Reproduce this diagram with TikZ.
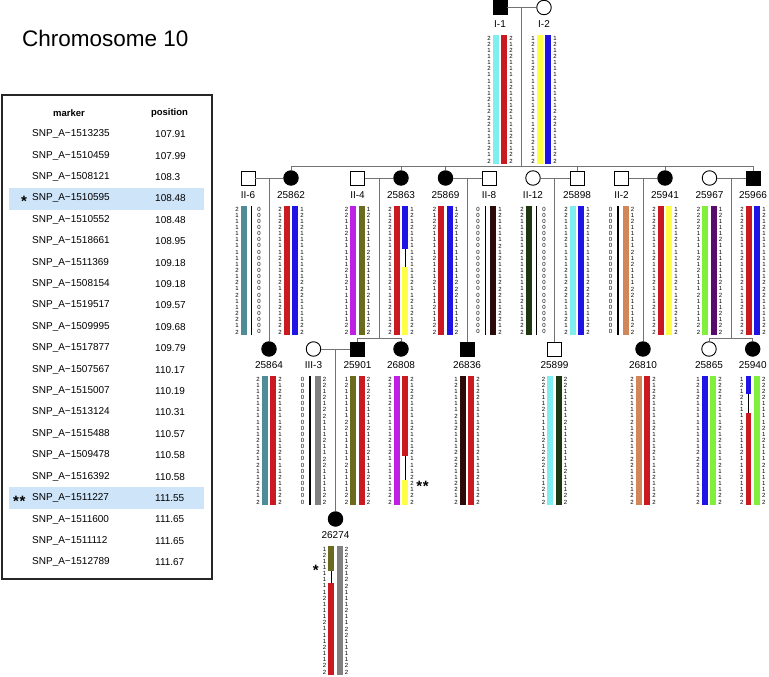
\documentclass[tikz,border=0pt]{standalone}
\usepackage{fontspec}
\setmainfont{Liberation Sans}
\definecolor{hcy}{RGB}{128,238,238}
\definecolor{hrd}{RGB}{200,26,32}
\definecolor{hye}{RGB}{255,255,70}
\definecolor{hbl}{RGB}{32,20,228}
\definecolor{hte}{RGB}{80,140,152}
\definecolor{hma}{RGB}{192,32,228}
\definecolor{hol}{RGB}{107,107,32}
\definecolor{hbr}{RGB}{45,10,10}
\definecolor{hdg}{RGB}{30,55,16}
\definecolor{hor}{RGB}{210,135,90}
\definecolor{hli}{RGB}{128,240,60}
\definecolor{hpu}{RGB}{90,12,110}
\definecolor{hgr}{RGB}{128,128,128}
\definecolor{hlt}{RGB}{206,228,248}
\def\hCy{2,2,1,1,1,2,1,1,1,1,2,1,2,2,2,1,1,1,2,1,2}
\def\hRd{2,1,2,2,1,1,1,1,2,1,1,1,2,1,1,1,2,1,1,2,2}
\def\hYe{1,2,1,1,1,2,1,1,1,1,1,1,2,1,1,2,1,2,1,2,2}
\def\hBl{1,2,1,2,1,1,1,1,1,1,1,1,2,2,2,1,1,1,1,2,2}
\def\hTe{2,1,1,1,1,1,1,1,1,1,2,1,2,1,2,1,1,2,2,1,2}
\def\hMa{2,2,1,1,2,1,1,1,1,1,2,1,2,1,1,1,1,1,1,2,2}
\def\hOl{1,2,1,1,1,1,1,2,2,1,1,1,1,1,2,1,1,1,1,2,2}
\def\hBr{1,2,1,1,1,1,2,1,2,1,1,1,2,2,2,1,1,2,2,1,2}
\def\hDg{2,2,1,1,1,1,1,2,1,1,1,1,1,1,1,2,1,1,1,2,2}
\def\hOr{2,1,2,1,1,1,1,2,1,2,1,1,1,2,2,1,1,1,1,2,2}
\def\hLi{2,2,2,2,1,1,1,1,2,1,2,1,1,1,2,1,1,1,1,2,2}
\def\hPu{1,2,1,1,1,2,1,1,1,1,1,1,2,1,2,1,1,2,1,2,2}
\def\hGr{2,2,1,2,1,2,2,1,1,1,2,1,1,2,2,1,1,1,1,2,2}
\def\hZe{0,0,0,0,0,0,0,0,0,0,0,0,0,0,0,0,0,0,0,0,0}
\def\hBY{1,2,1,2,1,1,1,1,1,1,1,1,2,1,1,2,1,2,1,2,2}
\def\hRY{2,1,2,2,1,1,1,1,2,1,1,1,2,1,1,1,2,2,1,2,2}
\def\hBR{1,2,1,2,1,1,1,1,2,1,1,1,2,1,1,1,2,1,1,2,2}
\def\hOR{1,2,1,1,1,1,1,1,2,1,1,1,2,1,1,1,2,1,1,2,2}
% cx, offset, top, colour
\newcommand{\hb}[4]{\fill[#4] ({#1+(#2)-2.8},#3) rectangle ({#1+(#2)+2.8},{#3+129});}
% cx, offset, top
\newcommand{\nb}[3]{\fill[black] ({#1+(#2)-0.7},#3) rectangle ({#1+(#2)+0.7},{#3+129});}
% cx, offset, top, k1, k2, c1, c2
\newcommand{\rb}[7]{%
 \fill[#6] ({#1+(#2)-2.8},#3) rectangle ({#1+(#2)+2.8},{#3+#4*6.143});
 \fill[black] ({#1+(#2)-0.7},{#3+#4*6.143}) rectangle ({#1+(#2)+0.7},{#3+#5*6.143});
 \fill[#7] ({#1+(#2)-2.8},{#3+#5*6.143}) rectangle ({#1+(#2)+2.8},{#3+129});}
% id, cx, top, left list, right list
\newcommand{\dg}[5]{%
 \foreach \dv [count=\iv] in #4 {\node[dig] (#1l\iv) at ({#2-11},{#3+(\iv-0.5)*6.143}) {\dv};}
 \foreach \dv [count=\iv] in #5 {\node[dig] (#1r\iv) at ({#2+11},{#3+(\iv-0.5)*6.143}) {\dv};}}
\begin{document}
\begin{tikzpicture}[x=1pt,y=-1pt,
 dig/.style={font=\fontsize{6}{6}\selectfont, inner sep=0pt},
 lab/.style={font=\fontsize{10}{12}\selectfont, inner sep=0pt},
 tab/.style={font=\fontsize{10}{12}\selectfont, inner sep=0pt},
 hdr/.style={font=\bfseries\fontsize{9.5}{12}\selectfont, inner sep=0pt},
 ast/.style={font=\bfseries\fontsize{15}{16}\selectfont, inner sep=0pt, anchor=base},
 sym/.style={draw=black, line width=0.9pt, inner sep=0pt, minimum size=14pt},
 sqU/.style={sym, rectangle, fill=white},
 sqA/.style={sym, rectangle, fill=black},
 ciU/.style={sym, circle, fill=white, minimum size=14.5pt},
 ciA/.style={sym, circle, fill=black, minimum size=14.5pt},
 ped/.style={draw=black!55, line width=0.8pt}]
\useasboundingbox (0,0) rectangle (769,677);
\fill[white] (0,0) rectangle (769,677);

% title
\node[font=\fontsize{22.5}{26}\selectfont, anchor=west, inner sep=0pt] (title) at (22,38) {Chromosome 10};

% table
\fill[hlt] (9,187.5) rectangle (204,209.5);
\fill[hlt] (9,487.3) rectangle (204,509.3);
\draw[line width=1.2pt, draw=black!85] (2,95) rectangle (212,579);
\node[hdr] (hm) at (69,113) {marker};
\node[hdr] (hp) at (169.5,113) {position};
\foreach \m/\p [count=\iv] in {1513235/107.91,1510459/107.99,1508121/108.3,1510595/108.48,1510552/108.48,1518661/108.95,1511369/109.18,1508154/109.18,1519517/109.57,1509995/109.68,1517877/109.79,1507567/110.17,1515007/110.19,1513124/110.31,1515488/110.57,1509478/110.58,1516392/110.58,1511227/111.55,1511600/111.65,1511112/111.65,1512789/111.67}{
 \node[tab, anchor=west] (mk\iv) at (32,{134.3+(\iv-1)*21.4}) {SNP\_A−\m};
 \node[tab, anchor=west] (ps\iv) at (155,{134.3+(\iv-1)*21.4}) {\p};
}
\node[ast] (st1) at (24,206.5) {*};
\node[ast] (st2) at (19.3,506.1) {*\kern0.8pt*};

% symbols
\node[sqA] (I1) at (500,7.5) {};
\node[ciU] (I2) at (544,7.5) {};
\node[sqU] (II6) at (248,178) {};
\node[ciA] (n25862) at (291,178) {};
\node[sqU] (II4) at (357.5,178) {};
\node[ciA] (n25863) at (401,178) {};
\node[ciA] (n25869) at (445.5,178) {};
\node[sqU] (II8) at (489,178) {};
\node[ciU] (II12) at (533,178) {};
\node[sqU] (n25898) at (577,178) {};
\node[sqU] (II2) at (621.5,178) {};
\node[ciA] (n25941) at (665,178) {};
\node[ciU] (n25967) at (709.5,178) {};
\node[sqA] (n25966) at (753,178) {};
\node[ciA] (n25864) at (269,349) {};
\node[ciU] (III3) at (313.5,349) {};
\node[sqA] (n25901) at (357.5,349) {};
\node[ciA] (n26808) at (401,349) {};
\node[sqA] (n26836) at (467,349) {};
\node[sqU] (n25899) at (554.5,349) {};
\node[ciA] (n26810) at (643,349) {};
\node[ciU] (n25865) at (709,349) {};
\node[ciA] (n25940) at (752.7,349) {};
\node[ciA] (n26274) at (335.5,519) {};

% connectors
\coordinate (m0) at (521,7.5);
\coordinate (s0) at (521,166);
\draw[ped] (I1) -- (I2);
\draw[ped] (m0) -- (s0);
\foreach \c in {n25862,n25863,n25869,n25898,n25941,n25966} {\draw[ped] (s0) -| (\c.north);}
\draw[ped] (II6) -- (n25862);
\draw[ped] (II4) -- (n25863);
\draw[ped] (n25869) -- (II8);
\draw[ped] (II12) -- (n25898);
\draw[ped] (II2) -- (n25941);
\draw[ped] (n25967) -- (n25966);
\coordinate (d1) at (269,178);
\draw[ped] (d1) -- (n25864.north);
\coordinate (d2) at (379,178);
\coordinate (s2) at (379,338);
\draw[ped] (d2) -- (s2);
\draw[ped] (s2) -| (n25901.north);
\draw[ped] (s2) -| (n26808.north);
\coordinate (d3) at (467,178);
\draw[ped] (d3) -- (n26836.north);
\coordinate (d4) at (554.5,178);
\draw[ped] (d4) -- (n25899.north);
\coordinate (d5) at (643,178);
\draw[ped] (d5) -- (n26810.north);
\coordinate (d6) at (731,178);
\coordinate (s6) at (731,338);
\draw[ped] (d6) -- (s6);
\draw[ped] (s6) -| (n25865.north);
\draw[ped] (s6) -| (n25940.north);
\draw[ped] (III3) -- (n25901);
\coordinate (d7) at (335.5,349);
\draw[ped] (d7) -- (n26274.north);

% labels
\node[lab] (lI1) at (500,24) {I-1};
\node[lab] (lI2) at (544,24) {I-2};
\foreach \t/\x in {II-6/248,25862/291,II-4/357.5,25863/401,25869/445.5,II-8/489,II-12/533,25898/577,II-2/621.5,25941/665,25967/709.5,25966/753}{\node[lab] (l\t) at (\x,195) {\t};}
\foreach \t/\x in {25864/269,III-3/313.5,25901/357.5,26808/401,26836/467,25899/554.5,26810/643,25865/709,25940/752.7}{\node[lab] (l\t) at (\x,365) {\t};}
\node[lab] (l26274) at (335.5,535.5) {26274};

% haplotype bars
\hb{500}{-4.25}{35}{hcy} \hb{500}{4.25}{35}{hrd}
\hb{544}{-4.25}{35}{hye} \hb{544}{4.25}{35}{hbl}
\hb{248}{-4.25}{206}{hte} \nb{248}{3.7}{206}
\hb{291}{-4.25}{206}{hrd} \hb{291}{4.25}{206}{hbl}
\hb{357.5}{-4.25}{206}{hma} \hb{357.5}{4.25}{206}{hol}
\hb{401}{-4.25}{206}{hrd} \rb{401}{4.25}{206}{7}{10}{hbl}{hye}
\hb{445.5}{-4.25}{206}{hrd} \hb{445.5}{4.25}{206}{hbl}
\nb{489}{-3.7}{206} \hb{489}{4.25}{206}{hbr}
\hb{533}{-4.25}{206}{hdg} \nb{533}{3.7}{206}
\hb{577}{-4.25}{206}{hcy} \hb{577}{4.25}{206}{hbl}
\nb{621.5}{-3.7}{206} \hb{621.5}{4.25}{206}{hor}
\hb{665}{-4.25}{206}{hrd} \hb{665}{4.25}{206}{hye}
\hb{709.5}{-4.25}{206}{hli} \hb{709.5}{4.25}{206}{hpu}
\hb{753}{-4.25}{206}{hrd} \hb{753}{4.25}{206}{hbl}
\hb{269}{-4.25}{376}{hte} \hb{269}{4.25}{376}{hrd}
\nb{313.5}{-3.7}{376} \hb{313.5}{4.25}{376}{hgr}
\hb{357.5}{-4.25}{376}{hol} \hb{357.5}{4.25}{376}{hrd}
\hb{401}{-4.25}{376}{hma} \rb{401}{4.25}{376}{13}{17}{hrd}{hye}
\hb{467}{-4.25}{376}{hbr} \hb{467}{4.25}{376}{hrd}
\hb{554.5}{-4.25}{376}{hcy} \hb{554.5}{4.25}{376}{hdg}
\hb{643}{-4.25}{376}{hor} \hb{643}{4.25}{376}{hrd}
\hb{709}{-4.25}{376}{hbl} \hb{709}{4.25}{376}{hli}
\rb{752.7}{-4.25}{376}{3}{6}{hbl}{hrd} \hb{752.7}{4.25}{376}{hli}
\rb{335.5}{-4.25}{546}{4}{6}{hol}{hrd} \hb{335.5}{4.25}{546}{hgr}

% allele digits
\dg{I1}{500}{35}{\hCy}{\hRd}
\dg{I2}{544}{35}{\hYe}{\hBl}
\dg{II6}{248}{206}{\hTe}{\hZe}
\dg{A25862}{291}{206}{\hRd}{\hBl}
\dg{II4}{357.5}{206}{\hMa}{\hOl}
\dg{A25863}{401}{206}{\hRd}{\hBY}
\dg{A25869}{445.5}{206}{\hRd}{\hBl}
\dg{II8}{489}{206}{\hZe}{\hBr}
\dg{II12}{533}{206}{\hDg}{\hZe}
\dg{A25898}{577}{206}{\hCy}{\hBl}
\dg{II2}{621.5}{206}{\hZe}{\hOr}
\dg{A25941}{665}{206}{\hRd}{\hYe}
\dg{A25967}{709.5}{206}{\hLi}{\hPu}
\dg{A25966}{753}{206}{\hRd}{\hBl}
\dg{A25864}{269}{376}{\hTe}{\hRd}
\dg{III3}{313.5}{376}{\hZe}{\hGr}
\dg{A25901}{357.5}{376}{\hOl}{\hRd}
\dg{A26808}{401}{376}{\hMa}{\hRY}
\dg{A26836}{467}{376}{\hBr}{\hRd}
\dg{A25899}{554.5}{376}{\hCy}{\hDg}
\dg{A26810}{643}{376}{\hOr}{\hRd}
\dg{A25865}{709}{376}{\hBl}{\hLi}
\dg{A25940}{752.7}{376}{\hBR}{\hLi}
\dg{A26274}{335.5}{546}{\hOR}{\hGr}

% recombination marks
\node[ast] (st3) at (422.5,491.5) {*\kern0.8pt*};
\node[ast] (st4) at (315.7,575.5) {*};
\end{tikzpicture}
\end{document}
